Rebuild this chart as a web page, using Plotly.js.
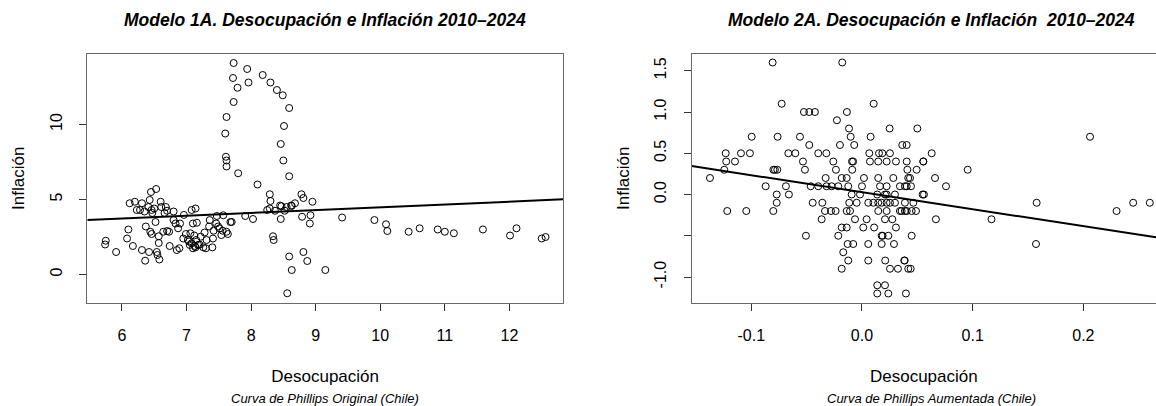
<!DOCTYPE html>
<html><head><meta charset="utf-8">
<script src="https://cdn.plot.ly/plotly-3.0.1.min.js"></script>
<style>html,body{margin:0;padding:0;background:#fff;overflow:hidden}</style>
</head><body><div id="chart" style="width:1156px;height:406px"></div>
<script>
// ---- Modelo 1A: Desocupación (x) vs Inflación (y) ----
const desocupacion1 = [
 7.61,7.62,7.62,7.60,7.62,7.73,7.79,7.72,7.73,7.94,7.96,8.18,8.30,8.40,8.49,8.59,8.51,8.46,8.50,8.59,7.80,8.10,7.91,8.03,7.70,7.57,8.29,8.30,
 8.78,8.81,8.95,8.45,8.47,8.55,8.62,8.25,8.29,8.37,8.52,8.79,8.92,8.91,8.46,8.34,8.35,8.81,8.59,8.87,8.63,9.15,8.56,8.63,8.68,
 9.41,9.91,10.09,10.11,10.44,10.61,10.89,11.0,11.14,11.59,12.01,12.11,12.50,12.56,
 5.75,5.74,5.91,6.10,6.08,6.17,6.31,6.36,6.42,6.54,6.55,6.58,
 6.12,6.20,6.23,6.31,6.28,6.41,6.43,6.45,6.53,6.46,6.47,6.60,6.61,6.68,6.70,6.80,6.52,6.37,6.44,6.46,6.57,6.64,6.70,6.73,
 6.57,6.74,6.85,6.89,6.90,6.96,7.08,7.14,6.83,6.87,6.80,7.10,7.16,6.99,7.02,7.08,7.13,7.10,7.05,7.15,7.18,7.14,7.22,7.26,
 7.31,7.28,7.36,7.40,7.41,7.42,7.46,7.49,7.51,7.56,7.54,7.62,7.64,7.68,7.35,7.47,7.30,6.35,6.50,6.66,7.04,7.12,7.20,6.95,7.06
];
const inflacion1 = [
 7.85,7.6,7.2,9.4,10.5,11.5,12.45,13.1,14.1,13.7,12.8,13.3,12.8,12.3,11.95,11.1,9.9,8.7,7.6,6.55,6.75,6.0,3.9,3.7,3.5,3.95,5.35,4.9,
 5.35,5.1,4.85,4.6,4.55,4.5,4.6,4.3,4.4,4.25,4.25,3.85,3.95,3.4,3.7,2.55,2.3,1.5,1.2,0.9,0.3,0.3,-1.25,4.57,4.75,
 3.8,3.63,3.35,2.9,2.85,3.08,3.0,2.85,2.75,3.0,2.6,3.08,2.4,2.5,
 2.25,2.0,1.5,3.0,2.4,1.9,1.63,0.92,1.5,1.5,1.3,1.0,
 4.75,4.85,4.3,4.75,4.3,4.5,4.97,5.5,5.7,4.3,4.1,4.85,4.5,4.5,4.25,4.2,3.5,3.2,2.85,2.7,2.55,2.85,2.9,2.85,
 2.1,1.9,1.63,1.75,3.4,3.97,4.3,4.4,3.4,3.08,3.63,3.4,3.45,2.7,2.3,2.08,1.9,1.75,1.97,2.3,1.97,1.81,2.52,1.81,
 2.3,2.8,3.63,1.81,2.4,2.92,3.4,3.2,3.08,2.92,2.63,2.85,2.7,3.5,3.2,3.9,1.75,4.2,4.4,4.1,2.2,2.6,2.0,2.4,2.75
];
const fit1 = [2.606, 0.1875]; // intercepto, pendiente

// ---- Modelo 2A: variaciones ----
const desocupacion2 = [
 -0.0807,-0.0178,-0.0725,0.0106,-0.0524,-0.0476,-0.0425,-0.0136,-0.0226,-0.0117,-0.0102,-0.0996,-0.0762,-0.056,-0.0476,-0.0199,-0.007,0.0078,0.025,
 -0.1231,-0.1093,-0.1012,-0.0665,-0.0602,-0.0395,-0.0322,0.0066,0.0154,0.0184,0.0253,0.0364,0.0404,
 -0.1226,-0.1147,-0.0533,-0.0259,-0.009,-0.008,0.0072,0.0147,0.0223,0.0307,0.0404,
 -0.080,-0.0786,-0.0765,-0.1244,-0.0515,-0.0235,-0.0088,-0.1373,-0.087,-0.0687,-0.077,-0.066,-0.077,
 -0.1217,-0.1045,-0.0801,-0.0445,-0.0358,-0.0328,-0.0183,-0.0138,-0.0463,-0.0395,-0.032,-0.0274,-0.0214,-0.0124,
 -0.0334,-0.028,-0.0238,-0.0138,-0.0108,-0.0364,-0.0183,-0.0138,-0.0506,-0.0214,-0.0129,-0.0079,-0.0169,-0.0124,-0.0183,
 -0.0093,-0.0018,-0.0115,-0.0048,-0.0063,0.0042,0.0012,0.011,0.0057,0.0057,0.021,0.0253,0.0325,0.0138,0.0208,0.0138,0.0238,0.0397,
 0.0178,0.0187,0.0238,0.0178,0.0289,0.0382,0.0418,0.0307,0.0274,0.0208,0.0057,0.0103,0.0147,0.0178,0.0223,0.0253,0.0298,
 0.0147,0.0223,0.0343,0.0388,0.0404,0.0138,0.0208,0.0223,0.0298,0.0163,0.0223,0.0343,0.0404,0.0147,0.0283,0.0418,0.0018,0.0,
 0.0554,0.041,0.0494,0.0434,0.0388,0.0443,0.0548,0.056,0.066,0.0759,0.0955,0.0388,0.0464,0.0358,0.0449,0.0488,0.0668,0.117,
 0.0449,0.0386,0.044,0.1578,0.1572,0.230,0.245,0.260,0.206,0.0554,0.05,0.063
];
const inflacion2 = [
 1.6,1.6,1.1,1.1,1.0,1.0,1.0,1.0,0.9,0.8,0.7,0.7,0.7,0.7,0.6,0.6,0.6,0.7,0.8,
 0.5,0.5,0.5,0.5,0.5,0.5,0.5,0.5,0.5,0.5,0.5,0.6,0.6,
 0.4,0.4,0.4,0.4,0.4,0.4,0.4,0.4,0.4,0.4,0.4,
 0.3,0.3,0.3,0.3,0.3,0.3,0.3,0.2,0.1,0.1,0.0,0.0,-0.1,
 -0.2,-0.2,-0.2,-0.1,-0.1,0.2,0.2,0.2,0.1,0.1,0.1,0.1,0.1,0.1,
 -0.2,-0.2,-0.2,-0.2,-0.2,-0.3,-0.4,-0.4,-0.5,-0.5,-0.6,-0.6,-0.7,-0.8,-0.9,
 0.0,0.0,-0.1,-0.1,-0.3,-0.3,-0.4,-0.4,-0.6,-0.8,-0.8,-0.9,-0.9,-1.1,-1.1,-1.2,-1.2,-1.2,
 -0.5,-0.5,-0.5,-0.6,-0.6,-0.8,-0.9,-0.4,-0.3,-0.3,-0.1,-0.1,-0.1,-0.1,-0.1,-0.1,-0.1,
 -0.2,-0.2,-0.2,-0.2,-0.2,0.0,0.0,0.0,0.0,0.1,0.1,0.1,0.1,0.2,0.2,0.2,0.2,0.1,
 0.4,0.3,0.3,0.2,0.1,0.1,0.0,0.0,0.2,0.1,0.3,-0.1,-0.1,-0.2,-0.2,-0.2,-0.3,-0.3,
 -0.5,-0.8,-0.9,-0.1,-0.6,-0.2,-0.1,-0.1,0.7,0.4,0.8,0.5
];
const fit2 = [0.028, -2.06]; // intercepto, pendiente

const xTicks1 = [6,7,8,9,10,11,12];
const yTicks1 = [0,5,10];
const xTicks2 = [-0.1,0.0,0.1,0.2];
const xTickText2 = ["-0.1","0.0","0.1","0.2"];
const yTicks2 = [-1.0,-0.5,0.0,0.5,1.0,1.5];
const yTickText2 = ["-1.0","","0.0","0.5","1.0","1.5"];

const xr1 = [5.464, 12.83], yr1 = [-1.867, 14.7];
const xr2 = [-0.1538, 0.2656], yr2 = [-1.309, 1.703];

const FONT = "Liberation Sans, Arial, Helvetica, sans-serif";
const marker = {symbol:"circle-open", size:7, color:"#000", line:{width:1, color:"#000"}};

const traces = [
 {x:desocupacion1, y:inflacion1, type:"scatter", mode:"markers", marker:marker, xaxis:"x", yaxis:"y", hoverinfo:"x+y"},
 {x:xr1, y:xr1.map(v=>fit1[0]+fit1[1]*v), type:"scatter", mode:"lines", line:{color:"#000", width:2}, xaxis:"x", yaxis:"y"},
 {x:desocupacion2, y:inflacion2, type:"scatter", mode:"markers", marker:marker, xaxis:"x2", yaxis:"y2", hoverinfo:"x+y"},
 {x:xr2, y:xr2.map(v=>fit2[0]+fit2[1]*v), type:"scatter", mode:"lines", line:{color:"#000", width:2}, xaxis:"x2", yaxis:"y2"}
];

function ax(extra){
  return Object.assign({
    showgrid:false, zeroline:false, showline:true, mirror:true, linecolor:"#6a6a6a", linewidth:1,
    ticks:"outside", ticklen:7, tickcolor:"#333", tickwidth:1,
    tickfont:{family:FONT, size:16, color:"#000"}, ticklabelstandoff:11,
    fixedrange:true
  }, extra);
}

const ydom = [(406-302.5)/406, (406-54)/406];
const layout = {
  width:1156, height:406, margin:{l:0,r:0,t:0,b:0},
  paper_bgcolor:"#fff", plot_bgcolor:"#fff", showlegend:false,
  font:{family:FONT, color:"#000"},
  xaxis: ax({domain:[87.3/1156, 563/1156], range:xr1, tickvals:xTicks1, anchor:"y",
    title:{text:"Desocupación", font:{size:17, family:FONT}, standoff:27}}),
  yaxis: ax({domain:ydom, range:yr1, tickvals:yTicks1, tickangle:-90, anchor:"x",
    title:{text:"Inflación", font:{size:17, family:FONT}, standoff:18}}),
  xaxis2: ax({domain:[691.7/1156, 1], range:xr2, tickvals:xTicks2, ticktext:xTickText2, anchor:"y2",
    title:{text:"Desocupación", font:{size:17, family:FONT}, standoff:27}}),
  yaxis2: ax({domain:ydom, range:yr2, tickvals:yTicks2, ticktext:yTickText2, tickangle:-90, anchor:"x2",
    title:{text:"Inflación", font:{size:17, family:FONT}, standoff:18}}),
  annotations:[
    {text:"<b><i>Modelo 1A. Desocupación e Inflación 2010–2024</i></b>", xref:"paper", yref:"paper",
     x:325/1156, y:1-20/406, xanchor:"center", yanchor:"middle", showarrow:false, font:{size:17.5, family:FONT}},
    {text:"<b><i>Modelo 2A. Desocupación e Inflación&nbsp; 2010–2024</i></b>", xref:"paper", yref:"paper",
     x:931/1156, y:1-20/406, xanchor:"center", yanchor:"middle", showarrow:false, font:{size:17.5, family:FONT}},
    {text:"<i>Curva de Phillips Original (Chile)</i>", xref:"paper", yref:"paper",
     x:325/1156, y:1-398/406, xanchor:"center", yanchor:"middle", showarrow:false, font:{size:13, family:FONT}},
    {text:"<i>Curva de Phillips Aumentada (Chile)</i>", xref:"paper", yref:"paper",
     x:931/1156, y:1-398/406, xanchor:"center", yanchor:"middle", showarrow:false, font:{size:13, family:FONT}}
  ]
};

Plotly.newPlot("chart", traces, layout, {displayModeBar:false, staticPlot:true});
</script></body></html>
